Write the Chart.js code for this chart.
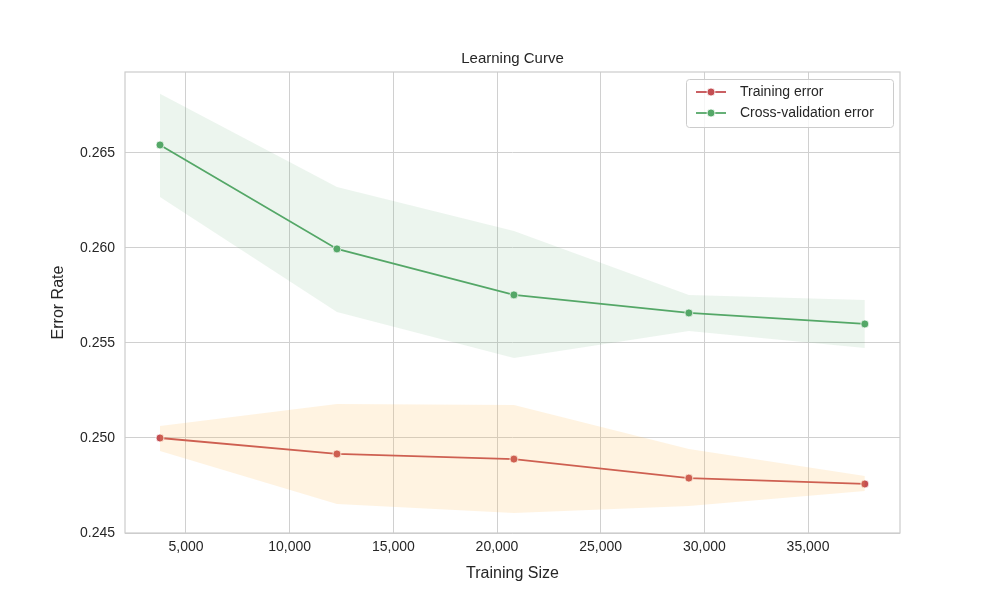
<!DOCTYPE html>
<html><head><meta charset="utf-8">
<script src="https://cdn.jsdelivr.net/npm/chart.js@4"></script>
<style>html,body{margin:0;padding:0;background:#fff}#wrap{width:1000px;height:600px}</style>
</head><body><div id="wrap"><canvas id="c" width="1000" height="600"></canvas></div>
<script>
const sizes=[3746,12281,20816,29253,37740];
const trainErr=[0.2500,0.24916,0.24889,0.24789,0.24758];
const trainUpper=[0.25063,0.25179,0.25174,0.24942,0.2480];
const trainLower=[0.24932,0.24653,0.24605,0.24642,0.24721];
const cvErr=[0.26542,0.25995,0.25753,0.25658,0.2560];
const cvUpper=[0.26811,0.26321,0.26089,0.25753,0.25726];
const cvLower=[0.26268,0.25663,0.25421,0.25563,0.25474];
const xTicks=[5000,10000,15000,20000,25000,30000,35000];
const yTicks=[0.245,0.250,0.255,0.260,0.265];
const pts=a=>a.map((v,i)=>({x:sizes[i],y:v}));
const RED='#c44e52',GREEN='#55a868',FONT='Liberation Sans';
const legendPlugin={id:'lg',afterDraw(ch){const c=ch.ctx,a=ch.chartArea;c.save();
 const bx=686,by=79,bw=207,bh=48;c.fillStyle='rgba(255,255,255,0.8)';c.strokeStyle='#ccc';c.lineWidth=1;
 c.beginPath();c.roundRect(bx+0.5,by+0.5,bw,bh,3);c.fill();c.stroke();
 c.font='14px '+FONT;c.textBaseline='middle';
 [[RED,'Training error',92],[GREEN,'Cross-validation error',113]].forEach(([col,t,y])=>{
  c.strokeStyle=col;c.lineWidth=1.8;c.beginPath();c.moveTo(696,y);c.lineTo(726,y);c.stroke();
  c.fillStyle=col;c.beginPath();c.arc(711,y,4,0,7);c.fill();c.strokeStyle='#fff';c.lineWidth=0.8;c.stroke();
  c.fillStyle='#262626';c.fillText(t,740,y);});
 c.textAlign='center';c.font='15px '+FONT;c.fillStyle='#262626';c.fillText('Learning Curve',(a.left+a.right)/2,59);
 c.font='16px '+FONT;c.fillText('Training Size',(a.left+a.right)/2,574);
 c.save();c.translate(59,(a.top+a.bottom)/2);c.rotate(-Math.PI/2);c.fillText('Error Rate',0,0);c.restore();
 c.strokeStyle='#ccc';c.lineWidth=1.2;c.strokeRect(a.left,a.top,a.right-a.left,a.bottom-a.top);
 c.restore();}};
const band=(d,col)=>({data:pts(d),borderWidth:0,pointRadius:0,backgroundColor:col,showLine:true});
new Chart(document.getElementById('c'),{type:'scatter',
 data:{datasets:[
  {...band(trainUpper,'rgba(255,183,77,0.17)'),fill:'+1'},
  band(trainLower,'rgba(255,183,77,0.17)'),
  {...band(cvUpper,'rgba(85,168,104,0.11)'),fill:'+1'},
  band(cvLower,'rgba(85,168,104,0.11)'),
  {data:pts(trainErr),showLine:true,borderColor:RED,backgroundColor:RED,borderWidth:1.8,pointRadius:4,pointBorderColor:'#fff',pointBorderWidth:0.8},
  {data:pts(cvErr),showLine:true,borderColor:GREEN,backgroundColor:GREEN,borderWidth:1.8,pointRadius:4,pointBorderColor:'#fff',pointBorderWidth:0.8}
 ]},
 options:{responsive:false,animation:false,events:[],
  layout:{padding:{top:72,right:100,left:0,bottom:0}},
  plugins:{legend:{display:false},tooltip:{enabled:false}},
  scales:{
   x:{type:'linear',min:2059,max:39436,ticks:{color:'#262626',font:{family:FONT,size:14},maxRotation:0,padding:6},
    afterBuildTicks:s=>{s.ticks=xTicks.map(v=>({value:v}))},
    afterFit:s=>{s.height=67},
    grid:{color:'#d0d0d0',drawTicks:false},border:{display:false}},
   y:{min:0.245,max:0.26926,ticks:{color:'#262626',font:{family:FONT,size:14},padding:10,callback:v=>v.toFixed(3)},
    afterBuildTicks:s=>{s.ticks=yTicks.map(v=>({value:v}))},
    afterFit:s=>{s.width=125},
    grid:{color:'#d0d0d0',drawTicks:false},border:{display:false}}
  }},
 plugins:[legendPlugin]});
</script></body></html>
